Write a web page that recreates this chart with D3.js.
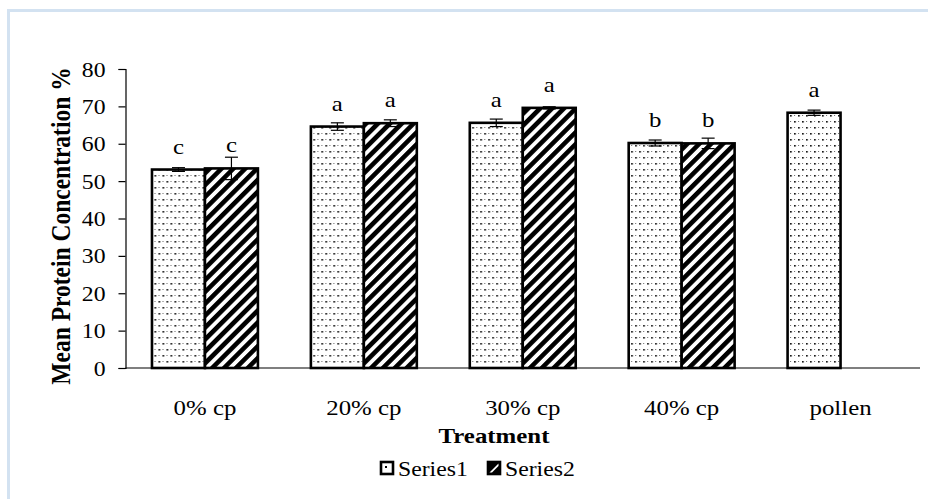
<!DOCTYPE html>
<html>
<head>
<meta charset="utf-8">
<script src="https://cdn.jsdelivr.net/npm/d3@7"></script>
<style>
  html, body { margin: 0; padding: 0; background: #fff; }
  svg { display: block; }
  text { font-family: "Liberation Serif", "Times New Roman", serif; fill: #000; }
</style>
</head>
<body>
<svg id="chart" width="928" height="499"></svg>
<script>
// Mean protein concentration by treatment
const categories = ["0% cp", "20% cp", "30% cp", "40% cp", "pollen"];
const seriesNames = ["Series1", "Series2"];
const series1 = [53.1, 64.6, 65.6, 60.2, 68.3];
const series2 = [53.4, 65.5, 69.6, 60.1, null];
const series1Err = [0.5, 1.0, 1.0, 0.8, 0.7];
const series2Err = [3.0, 0.9, 0.3, 1.4, null];
const series1Letters = ["c", "a", "a", "b", "a"];
const series2Letters = ["c", "a", "a", "b", null];
const yTicks = [0, 10, 20, 30, 40, 50, 60, 70, 80];

const svg = d3.select("#chart");
const stretch = 1.13; // glyphs are drawn slightly wide

// chart-area frame
svg.append("rect")
  .attr("x", 8.5).attr("y", 10.5).attr("width", 960).attr("height", 560)
  .attr("fill", "none").attr("stroke", "#d3e2f1").attr("stroke-width", 3);

// fill patterns
const defs = svg.append("defs");
const dots = defs.append("pattern")
  .attr("id", "dots").attr("patternUnits", "userSpaceOnUse")
  .attr("width", 8).attr("height", 12);
dots.append("rect").attr("width", 8).attr("height", 12).attr("fill", "#fff");
dots.append("rect").attr("x", 1).attr("y", 1).attr("width", 1.6).attr("height", 1.6).attr("fill", "#000");
dots.append("rect").attr("x", 5).attr("y", 7).attr("width", 1.6).attr("height", 1.6).attr("fill", "#000");
dots.append("rect").attr("x", 1).attr("y", 7).attr("width", 1).attr("height", 1).attr("fill", "#666");
dots.append("rect").attr("x", 5).attr("y", 1).attr("width", 1).attr("height", 1).attr("fill", "#666");

const stripes = defs.append("pattern")
  .attr("id", "stripes").attr("patternUnits", "userSpaceOnUse")
  .attr("width", 8.4).attr("height", 8.4)
  .attr("patternTransform", "rotate(45)");
stripes.append("rect").attr("width", 8.4).attr("height", 8.4).attr("fill", "#fff");
stripes.append("rect").attr("x", 0).attr("y", 0).attr("width", 4.6).attr("height", 8.4).attr("fill", "#000");

const fills = ["url(#dots)", "url(#stripes)"];

// scales
const x0 = d3.scaleBand().domain(categories).range([125.5, 920]).padding(0);
const x1 = d3.scaleBand().domain(seriesNames)
  .range([x0.bandwidth() / 6, x0.bandwidth() * 5 / 6]).padding(0);
const y = d3.scaleLinear().domain([0, 80]).range([368, 69]);

// y axis
const yAxis = svg.append("g")
  .attr("transform", "translate(125.5,0)")
  .call(d3.axisLeft(y).tickValues(yTicks).tickSize(7).tickPadding(0).tickSizeOuter(7));
yAxis.select(".domain").attr("stroke", "#000").attr("stroke-width", 1.2);
yAxis.selectAll(".tick line").attr("stroke", "#000").attr("stroke-width", 1.2);
yAxis.selectAll(".tick text")
  .attr("x", null).attr("dy", null)
  .attr("transform", "translate(-20,7) scale(" + stretch + ",1)")
  .style("font-family", "'Liberation Serif', serif")
  .style("font-size", "21px").attr("fill", "#000");

// grouped data
const rows = categories.map((c, i) => ({
  cat: c,
  vals: [
    { s: seriesNames[0], v: series1[i], e: series1Err[i], l: series1Letters[i], k: 0 },
    { s: seriesNames[1], v: series2[i], e: series2Err[i], l: series2Letters[i], k: 1 }
  ].filter(d => d.v !== null)
}));

const groups = svg.append("g").selectAll("g").data(rows).join("g")
  .attr("transform", d => "translate(" + x0(d.cat) + ",0)");

groups.selectAll("rect").data(d => d.vals).join("rect")
  .attr("x", d => x1(d.s))
  .attr("y", d => y(d.v))
  .attr("width", x1.bandwidth())
  .attr("height", d => y(0) - y(d.v))
  .attr("fill", d => fills[d.k])
  .attr("stroke", "#000").attr("stroke-width", 2.6);

// error bars
const eb = groups.selectAll("g.err").data(d => d.vals).join("g").attr("class", "err")
  .attr("transform", d => "translate(" + (x1(d.s) + x1.bandwidth() / 2) + ",0)");
eb.append("line").attr("x1", 0).attr("x2", 0)
  .attr("y1", d => y(d.v - d.e)).attr("y2", d => y(d.v + d.e))
  .attr("stroke", "#000").attr("stroke-width", 1.2);
eb.append("line").attr("x1", -6.5).attr("x2", 6.5)
  .attr("y1", d => y(d.v + d.e)).attr("y2", d => y(d.v + d.e))
  .attr("stroke", "#000").attr("stroke-width", 1.2);
eb.append("line").attr("x1", -6.5).attr("x2", 6.5)
  .attr("y1", d => y(d.v - d.e)).attr("y2", d => y(d.v - d.e))
  .attr("stroke", "#000").attr("stroke-width", 1.2);

// significance letters
groups.selectAll("text.sig").data(d => d.vals.filter(v => v.l)).join("text")
  .attr("class", "sig")
  .attr("transform", d => "translate(" + (x1(d.s) + x1.bandwidth() / 2) + "," + (y(d.v) - 16) + ") scale(" + stretch + ",1)")
  .attr("text-anchor", "middle")
  .style("font-size", "22px")
  .text(d => d.l);

// x axis baseline
svg.append("line")
  .attr("x1", 125.5).attr("x2", 920)
  .attr("y1", y(0)).attr("y2", y(0))
  .attr("stroke", "#000").attr("stroke-width", 1.2);

// category labels
svg.append("g").selectAll("text").data(categories).join("text")
  .attr("transform", d => "translate(" + (x0(d) + x0.bandwidth() / 2) + ",415) scale(" + stretch + ",1)")
  .attr("text-anchor", "middle")
  .style("font-size", "22px")
  .text(d => d);

// axis titles
svg.append("text")
  .attr("transform", "translate(494,443) scale(" + stretch + ",1)")
  .attr("text-anchor", "middle")
  .style("font-size", "22px").style("font-weight", "bold")
  .text("Treatment");

svg.append("text")
  .attr("transform", "translate(70,226) rotate(-90) scale(1," + stretch + ")")
  .attr("text-anchor", "middle")
  .style("font-size", "23.5px").style("font-weight", "bold")
  .text("Mean Protein Concentration %");

// legend
const legend = svg.append("g").selectAll("g").data(seriesNames).join("g")
  .attr("transform", (d, i) => "translate(" + (381 + i * 107) + ",462)");
legend.append("rect")
  .attr("width", 12).attr("height", 12)
  .attr("fill", (d, i) => i === 0 ? "#fff" : "#000")
  .attr("stroke", "#000").attr("stroke-width", 2.6);
legend.filter((d, i) => i === 1).append("path")
  .attr("d", "M1.5,10.5 L10.5,1.5 L10.5,4 L4,10.5 Z").attr("fill", "#fff");
legend.filter((d, i) => i === 0).append("rect")
  .attr("x", 4).attr("y", 4).attr("width", 2).attr("height", 2).attr("fill", "#000");
legend.append("text")
  .attr("transform", "translate(17,14) scale(" + stretch + ",1)")
  .style("font-size", "21px")
  .text(d => d);
</script>
</body>
</html>
